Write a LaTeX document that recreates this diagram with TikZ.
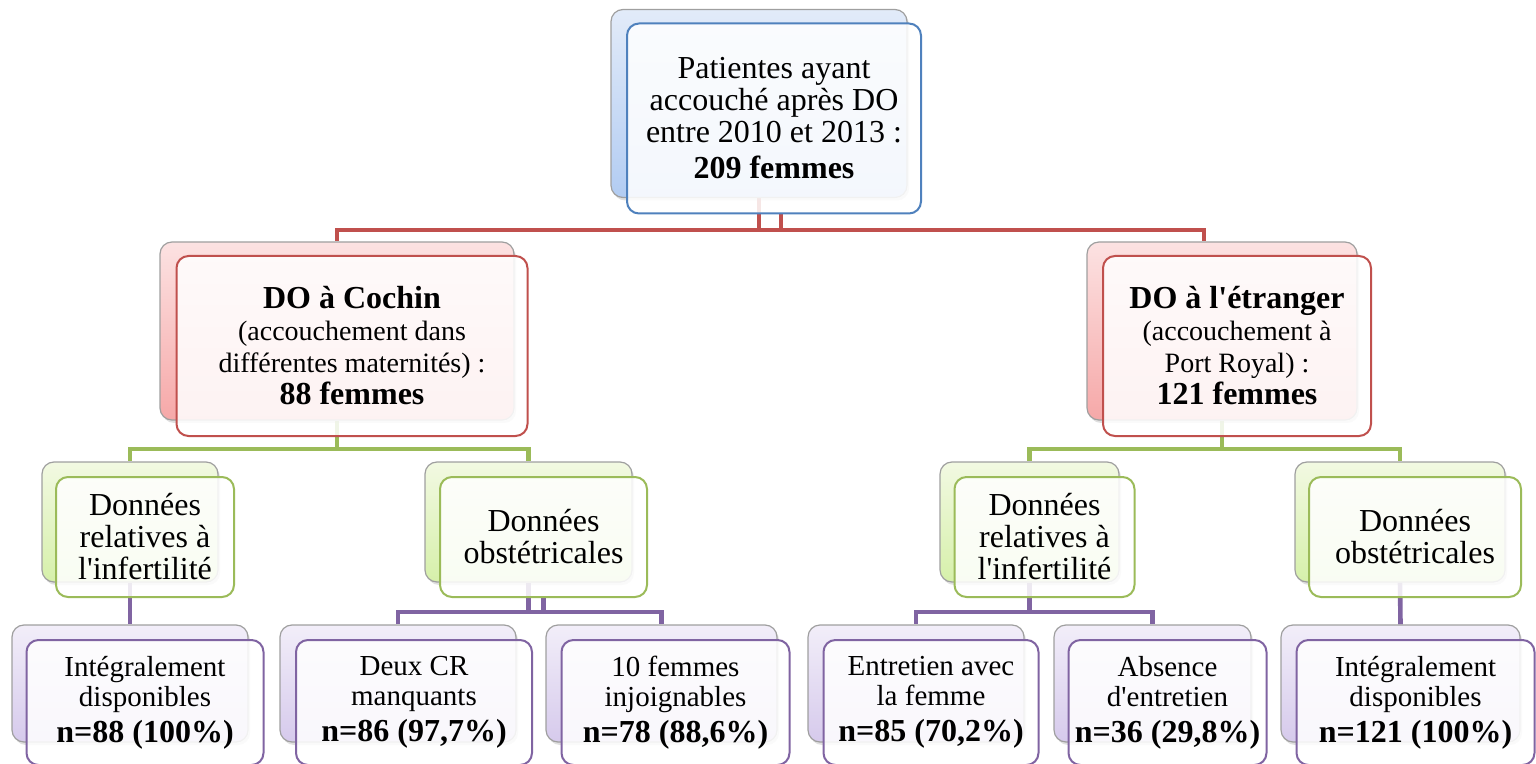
\documentclass[tikz,border=0pt]{standalone}
\usepackage{fontspec}
\setmainfont{Liberation Serif}[Ligatures=TeXOff]
\usetikzlibrary{backgrounds,shadows}
\definecolor{blueline}{RGB}{79,129,189}
\definecolor{redline}{RGB}{192,80,77}
\definecolor{greenline}{RGB}{155,187,89}
\definecolor{purpleline}{RGB}{128,100,162}
\definecolor{blueA}{RGB}{226,235,249}
\definecolor{blueB}{RGB}{178,204,242}
\definecolor{redA}{RGB}{252,226,226}
\definecolor{redB}{RGB}{246,168,168}
\definecolor{greenA}{RGB}{242,249,226}
\definecolor{greenB}{RGB}{214,240,170}
\definecolor{purpleA}{RGB}{242,238,249}
\definecolor{purpleB}{RGB}{214,202,236}
\newcommand{\nbold}[1]{{\fontsize{16}{16}\selectfont\bfseries #1}}

\begin{document}
\begin{tikzpicture}[x=0.5pt,y=-0.5pt,
	boxsize/.style 2 args={minimum width=#1*0.5pt,minimum height=#2*0.5pt}]
	% `backbox' is the shaded card behind, `frontbox' the card with the text.
	% `link' is used for the connectors.
	\tikzstyle{backbox} = [draw=gray!75,line width=0.6pt,rounded corners=6pt,inner sep=0pt,drop shadow={opacity=0.25,shadow xshift=1pt,shadow yshift=-1.5pt}]
	\tikzstyle{frontbox} = [draw,line width=1pt,rounded corners=6pt,inner sep=0pt,fill=white,fill opacity=0.86,text opacity=1,align=center,font=\fontsize{16}{16}\selectfont]
	\tikzstyle{link} = [line width=2.3pt]
	\tikzstyle{lvlzero} = [backbox,top color=blueA,bottom color=blueB]
	\tikzstyle{lvlone} = [backbox,top color=redA,bottom color=redB]
	\tikzstyle{lvltwo} = [backbox,top color=greenA,bottom color=greenB]
	\tikzstyle{lvlthree} = [backbox,top color=purpleA,bottom color=purpleB]
	%
	\useasboundingbox (0,0) rectangle (1536,764);
	% Top.
	\node[lvlzero,boxsize={296}{188}] (top-b) at (759,103.5) {};
	\node[frontbox,draw=blueline,boxsize={294}{190}] (top) at ([shift={(15,15)}]top-b.center)
		{Patientes ayant\\accouché après DO\\entre 2010 et 2013 :\\[2pt]\nbold{209 femmes}};
	% Second row.
	\node[lvlone,boxsize={354}{178}] (cochin-b) at (337,331) {};
	\node[frontbox,draw=redline,boxsize={351}{180},font=\fontsize{14}{16}\selectfont] (cochin) at ([shift={(15,15)}]cochin-b.center)
		{\nbold{DO à Cochin}\\(accouchement dans\\différentes maternités) :\\\nbold{88 femmes}};
	\node[lvlone,boxsize={270}{178}] (etr-b) at (1222,331) {};
	\node[frontbox,draw=redline,boxsize={268}{180},font=\fontsize{14}{16}\selectfont] (etr) at ([shift={(15,15)}]etr-b.center)
		{\nbold{DO à l'étranger}\\(accouchement à\\Port Royal) :\\\nbold{121 femmes}};
	% Third row.
	\node[lvltwo,boxsize={176}{120}] (cinf-b) at (130,522) {};
	\node[frontbox,draw=greenline,boxsize={178}{120}] (cinf) at ([shift={(15,15)}]cinf-b.center)
		{Données\\relatives à\\l'infertilité};
	\node[lvltwo,boxsize={207}{120}] (cobs-b) at (528.5,522) {};
	\node[frontbox,draw=greenline,boxsize={207}{120}] (cobs) at ([shift={(15,15)}]cobs-b.center)
		{Données\\obstétricales};
	\node[lvltwo,boxsize={179}{120}] (einf-b) at (1029.5,522) {};
	\node[frontbox,draw=greenline,boxsize={180}{120}] (einf) at ([shift={(15,15)}]einf-b.center)
		{Données\\relatives à\\l'infertilité};
	\node[lvltwo,boxsize={210}{120}] (eobs-b) at (1400,522) {};
	\node[frontbox,draw=greenline,boxsize={212}{120}] (eobs) at ([shift={(15,15)}]eobs-b.center)
		{Données\\obstétricales};
	% Fourth row.
	\tikzstyle{leaf} = [frontbox,draw=purpleline,font=\fontsize{14.5}{15}\selectfont]
	\node[lvlthree,boxsize={236}{117}] (l1-b) at (130,683.5) {};
	\node[leaf,boxsize={237}{125}] (l1) at ([shift={(15,19)}]l1-b.center)
		{Intégralement\\disponibles\\[3pt]\nbold{n=88 (100\%)}};
	\node[lvlthree,boxsize={236}{117}] (l2-b) at (398,683.5) {};
	\node[leaf,boxsize={236}{125}] (l2) at ([shift={(16,19)}]l2-b.center)
		{Deux CR\\manquants\\[3pt]\nbold{n=86 (97,7\%)}};
	\node[lvlthree,boxsize={231}{117}] (l3-b) at (661.5,683.5) {};
	\node[leaf,boxsize={228}{125}] (l3) at ([shift={(14,19)}]l3-b.center)
		{10 femmes\\injoignables\\[3pt]\nbold{n=78 (88,6\%)}};
	\node[lvlthree,boxsize={216}{117}] (l4-b) at (916,683.5) {};
	\node[leaf,boxsize={215}{125}] (l4) at ([shift={(15,19)}]l4-b.center)
		{Entretien avec\\la femme\\[3pt]\nbold{n=85 (70,2\%)}};
	\node[lvlthree,boxsize={197}{117}] (l5-b) at (1152.5,683.5) {};
	\node[leaf,boxsize={198}{125}] (l5) at ([shift={(15,19)}]l5-b.center)
		{Absence\\d'entretien\\[3pt]\nbold{n=36 (29,8\%)}};
	\node[lvlthree,boxsize={239}{117}] (l6-b) at (1400.5,683.5) {};
	\node[leaf,boxsize={238}{125}] (l6) at ([shift={(15,19)}]l6-b.center)
		{Intégralement\\disponibles\\[3pt]\nbold{n=121 (100\%)}};
	\begin{pgfonlayer}{background}
		% Bars.
		\coordinate (redbar) at (0,230);
		\coordinate (greenbar) at (0,449);
		\coordinate (purplebar) at (0,612);
		\coordinate (top-r) at ([xshift=3.5pt]top.south);
		\coordinate (etr-in) at ([xshift=-9pt]etr-b.north);
		% Draw lines.
		\draw[link,redline] (top-b.south) -- (top-b.south |- redbar) -| (cochin-b.north);
		\draw[link,redline] (top-b.south |- redbar) -| (etr-in);
		\draw[link,redline] (top-r) -- (top-r |- redbar);
		\draw[link,greenline] (cochin-b.south) -- (cochin-b.south |- greenbar) -| (cinf-b.north);
		\draw[link,greenline] (cochin-b.south |- greenbar) -| (cobs-b.north);
		\draw[link,greenline] (etr-b.south) -- (etr-b.south |- greenbar) -| (einf-b.north);
		\draw[link,greenline] (etr-b.south |- greenbar) -| (eobs-b.north);
		\draw[link,purpleline] (cinf-b.south) -- (l1-b.north);
		\draw[link,purpleline] (cobs-b.south) -- (cobs-b.south |- purplebar) -| (l2-b.north);
		\draw[link,purpleline] (cobs-b.south |- purplebar) -| (l3-b.north);
		\draw[link,purpleline] (cobs.south) -- (cobs.south |- purplebar);
		\draw[link,purpleline] (einf-b.south) -- (einf-b.south |- purplebar) -| (l4-b.north);
		\draw[link,purpleline] (einf-b.south |- purplebar) -| (l5-b.north);
		\draw[link,purpleline] (eobs-b.south) -- (l6-b.north);
	\end{pgfonlayer}
%
\end{tikzpicture}
\end{document}
